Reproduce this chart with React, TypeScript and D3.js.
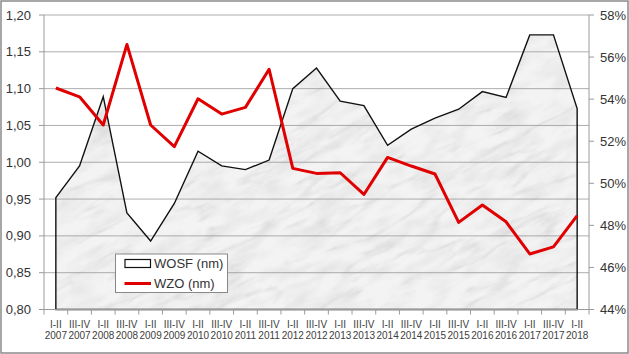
import React from "react";
import * as d3 from "d3";

const periods = ["I-II","III-IV","I-II","III-IV","I-II","III-IV","I-II","III-IV","I-II","III-IV","I-II","III-IV","I-II","III-IV","I-II","III-IV","I-II","III-IV","I-II","III-IV","I-II","III-IV","I-II"];
const years = ["2007","2007","2008","2008","2009","2009","2010","2010","2011","2011","2012","2012","2013","2013","2014","2014","2015","2015","2016","2016","2017","2017","2018"];
const wosf = [0.952,0.995,1.089,0.931,0.893,0.944,1.015,0.995,0.990,1.003,1.100,1.128,1.083,1.077,1.023,1.045,1.060,1.072,1.096,1.088,1.173,1.173,1.073];
const wzo = [54.53,54.11,52.77,56.60,52.77,51.74,54.02,53.29,53.61,55.42,50.71,50.47,50.50,49.47,51.23,50.82,50.44,48.14,48.97,48.17,46.64,46.98,48.46];
const leftTicks = [0.8,0.85,0.9,0.95,1.0,1.05,1.1,1.15,1.2];
const rightTicks = [44,46,48,50,52,54,56,58];

const W = 629, H = 354;
const X0 = 44, X1 = 589, YT = 15, YB = 309.5;
const FONT = "'Liberation Sans', Arial, sans-serif";

export default function App() {
  const idx = d3.range(wosf.length);
  const x = d3.scaleBand<number>().domain(idx).range([X0, X1]);
  const cx = (i: number) => (x(i) as number) + x.bandwidth() / 2;
  const yL = d3.scaleLinear().domain([0.8, 1.2]).range([YB, YT]);
  const yR = d3.scaleLinear().domain([44, 58]).range([YB, YT]);
  const area = d3.area<number>().x((d, i) => cx(i)).y0(yL(0.8)).y1((d) => yL(d))(wosf) || "";
  const line = d3.line<number>().x((d, i) => cx(i)).y((d) => yR(d))(wzo) || "";
  const fmtL = (v: number) => v.toFixed(2).replace(".", ",");
  const boundaries = d3.range(wosf.length + 1).map((i) => X0 + i * x.step());

  return (
    <svg width={W} height={H} style={{ position: "absolute", left: 0, top: 0, background: "#fff" }} fontFamily={FONT}>
      <defs>
        <clipPath id="areaClip"><path d={area} /></clipPath>
        <filter id="marble" x={-300} y={-300} width={1300} height={1000} filterUnits="userSpaceOnUse">
          <feTurbulence type="turbulence" baseFrequency="0.01 0.04" numOctaves="5" seed="7" result="t" />
          <feColorMatrix in="t" type="matrix" values="0 0 0 0 0.58  0 0 0 0 0.58  0 0 0 0 0.59  -2.2 0 0 0 0.5" result="veins" />
          <feTurbulence type="fractalNoise" baseFrequency="0.03 0.08" numOctaves="4" seed="3" result="n" />
          <feColorMatrix in="n" type="matrix" values="0 0 0 0 0.7  0 0 0 0 0.7  0 0 0 0 0.71  1.2 0 0 0 -0.45" result="cloud" />
          <feFlood floodColor="#f3f3f3" result="base" />
          <feComposite in="cloud" in2="base" operator="over" result="b2" />
          <feComposite in="veins" in2="b2" operator="over" />
        </filter>
      </defs>
      <rect x={1} y={1} width={W - 2} height={H - 2} fill="#fff" stroke="#8a8a8a" strokeWidth={1.5} />
      <g clipPath="url(#areaClip)">
        <rect x={-250} y={-250} width={1200} height={900} filter="url(#marble)" transform={`rotate(-28 ${W / 2} ${H / 2})`} />
      </g>
      {leftTicks.map((t) => (
        <line key={"g" + t} x1={X0} x2={X1} y1={yL(t)} y2={yL(t)} stroke="#9a9a9a" strokeWidth={1} strokeOpacity={0.8} />
      ))}
      <path d={area} fill="none" stroke="#111" strokeWidth={1.4} strokeLinejoin="miter" />
      <line x1={X0} x2={X0} y1={YT} y2={YB} stroke="#9a9a9a" />
      <line x1={X1} x2={X1} y1={YT} y2={YB} stroke="#9a9a9a" />
      <line x1={X0} x2={X1} y1={YB} y2={YB} stroke="#9a9a9a" />
      {leftTicks.map((t) => (
        <g key={"l" + t}>
          <line x1={X0 - 5} x2={X0} y1={yL(t)} y2={yL(t)} stroke="#9a9a9a" />
          <text x={31} y={yL(t)} dy="0.35em" textAnchor="end" fontSize={13} fill="#333">{fmtL(t)}</text>
        </g>
      ))}
      {rightTicks.map((t) => (
        <g key={"r" + t}>
          <line x1={X1} x2={X1 + 5} y1={yR(t)} y2={yR(t)} stroke="#9a9a9a" />
          <text x={626} y={yR(t)} dy="0.35em" textAnchor="end" fontSize={13} fill="#333">{t}%</text>
        </g>
      ))}
      {boundaries.map((b, i) => (
        <line key={"b" + i} x1={b} x2={b} y1={YB} y2={YB + 5} stroke="#9a9a9a" />
      ))}
      {idx.map((i) => (
        <text key={"x" + i} x={cx(i)} textAnchor="middle" fontSize={10} fill="#404040">
          <tspan x={cx(i)} y={328}>{periods[i]}</tspan>
          <tspan x={cx(i)} y={339}>{years[i]}</tspan>
        </text>
      ))}
      <path d={line} fill="none" stroke="#e00000" strokeWidth={3} strokeLinejoin="round" />
      <g>
        <rect x={115.5} y={254} width={112} height={38.5} fill="#fff" stroke="#888" />
        <rect x={125} y={259.5} width={25.5} height={8} fill="#fff" stroke="#111" strokeWidth={1.2} />
        <text x={154} y={268} fontSize={13} fill="#333">WOSF (nm)</text>
        <line x1={124.5} x2={151} y1={283.5} y2={283.5} stroke="#e00000" strokeWidth={3} />
        <text x={154} y={288} fontSize={13} fill="#333">WZO (nm)</text>
      </g>
    </svg>
  );
}
